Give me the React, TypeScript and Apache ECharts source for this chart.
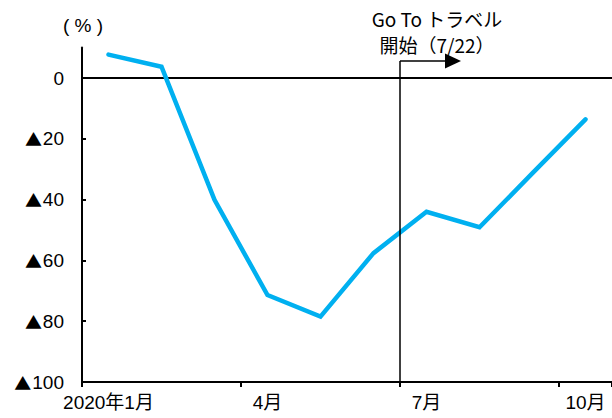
import React, { useEffect, useRef } from "react";
import * as echarts from "echarts";

const months = ["2020年1月", "2月", "3月", "4月", "5月", "6月", "7月", "8月", "9月", "10月"];
const values = [7.7, 3.7, -40.1, -71.4, -78.5, -57.6, -44.0, -49.1, -31.3, -13.6];
const yTicks = { min: -100, max: 10, interval: 20 };
const annotationLines = ["Go To トラベル", "開始（7/22）"];
const unitLabel = "( % )";
const startMonth = "7月";

const FONT = '"Liberation Sans", Arial, "Noto Sans CJK JP", sans-serif';
const CJK = '"Noto Sans CJK JP", sans-serif';

export default function App() {
  const ref = useRef<HTMLDivElement>(null);

  useEffect(() => {
    if (!ref.current) return;
    const chart = echarts.init(ref.current, undefined, { renderer: "svg" });

    chart.setOption({
      animation: false,
      grid: { left: 82, right: 0, top: 47.6, bottom: 36, containLabel: false },
      xAxis: {
        type: "category",
        data: months,
        boundaryGap: true,
        axisLine: { onZero: false, lineStyle: { color: "#000", width: 2 } },
        axisTick: {
          show: true,
          length: 5,
          interval: (i: number) => i % 3 === 0,
          lineStyle: { color: "#000", width: 2 },
        },
        axisLabel: {
          interval: (i: number) => i % 3 === 0,
          color: "#000",
          fontSize: 19,
          fontFamily: FONT,
          margin: 11,
        },
        splitLine: { show: false },
      },
      yAxis: {
        type: "value",
        min: yTicks.min,
        max: yTicks.max,
        interval: yTicks.interval,
        axisLine: { show: true, lineStyle: { color: "#000", width: 2 } },
        axisTick: { show: true, inside: true, length: 4, lineStyle: { color: "#000", width: 2 } },
        axisLabel: {
          showMaxLabel: false,
          color: "#000",
          fontSize: 19,
          fontFamily: FONT,
          margin: 18,
          formatter: (v: number) => (v === 0 ? "0" : v < 0 ? "{tri|▲}" + Math.abs(v) : String(v)),
          rich: {
            tri: { fontFamily: CJK, fontSize: 17, color: "#000", padding: [0, 1, 0, 0] },
          },
        },
        splitLine: { show: false },
      },
      series: [
        {
          type: "line",
          data: values,
          symbol: "none",
          lineStyle: { color: "#00B0F0", width: 4.5, cap: "round", join: "miter" },
          z: 3,
          markLine: {
            silent: true,
            symbol: "none",
            label: { show: false },
            lineStyle: { color: "#000", width: 2, type: "solid" },
            data: [{ yAxis: 0 }],
            z: 2,
          },
        },
      ],
    });

    // Vertical marker at the start of July with the arrow pointing forward
    const idx = months.indexOf(startMonth);
    const c1 = chart.convertToPixel({ xAxisIndex: 0 }, months[idx]) as number;
    const c0 = chart.convertToPixel({ xAxisIndex: 0 }, months[idx - 1]) as number;
    const xLine = (c0 + c1) / 2;
    const yBottom = chart.convertToPixel({ yAxisIndex: 0 }, yTicks.min) as number;
    const yArrow = chart.convertToPixel({ yAxisIndex: 0 }, 5.6) as number;
    const xCenterText = xLine + 37;

    const textStyle = (text: string, size: number, family: string) => ({
      text,
      fontSize: size,
      fontFamily: family,
      fill: "#000",
      align: "center",
      verticalAlign: "middle",
    });

    chart.setOption({
      graphic: [
        {
          type: "line",
          shape: { x1: xLine, y1: yArrow, x2: xLine, y2: yBottom },
          style: { stroke: "#000", lineWidth: 1.5 },
          z: 10,
        },
        {
          type: "line",
          shape: { x1: xLine, y1: yArrow, x2: xLine + 47, y2: yArrow },
          style: { stroke: "#000", lineWidth: 1.5 },
          z: 10,
        },
        {
          type: "polygon",
          shape: {
            points: [
              [xLine + 45, yArrow - 7.5],
              [xLine + 61, yArrow],
              [xLine + 45, yArrow + 7.5],
            ],
          },
          style: { fill: "#000" },
          z: 10,
        },
        { type: "text", x: xCenterText, y: 18, style: textStyle(annotationLines[0], 19, CJK), z: 10 },
        { type: "text", x: xCenterText, y: 44, style: textStyle(annotationLines[1], 19, CJK), z: 10 },
        { type: "text", x: 83, y: 25, style: textStyle(unitLabel, 19, FONT), z: 10 },
      ],
    });

    return () => chart.dispose();
  }, []);

  return <div ref={ref} style={{ width: 612, height: 418, position: "absolute", left: 0, top: 0, background: "#fff" }} />;
}
